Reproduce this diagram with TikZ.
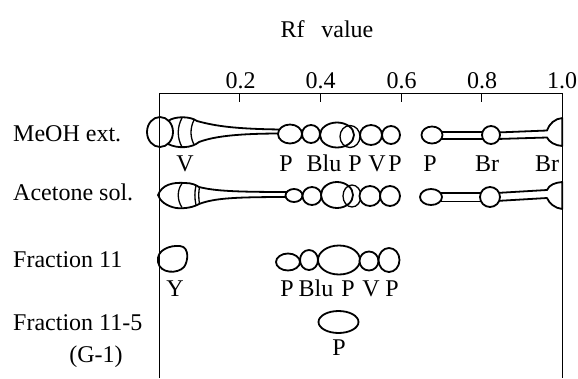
\documentclass[tikz,border=0pt]{standalone}
\usepackage{fontspec}
\setmainfont{Liberation Serif}

\begin{document}
\fontsize{24}{28}\selectfont
\begin{tikzpicture}[x=1pt,y=1pt,yscale=-1,xscale=1,
  spot/.style={line width=1.8pt,fill=white,line join=round},
  seam/.style={line width=1.3pt},
  frame/.style={line width=1pt},
  lbl/.style={anchor=base,inner sep=0pt},
  rowlbl/.style={anchor=base west,inner sep=0pt}]
\useasboundingbox (0,0) rectangle (578,378);

%Shape: MeOH ext. streak with lobes
\draw [spot] (168,121) .. controls (175,116) and (190,116) .. (197,121) .. controls (215,126) and (235,129) .. (282,129.5) -- (282,133.5) .. controls (240,133.5) and (215,136) .. (199,142) .. controls (192,148) and (178,149) .. (168,144) -- cycle ;
\draw [spot] (160,132) ellipse [x radius=13, y radius=15] ;
\draw [seam] (182,118) .. controls (177,127) and (177,138) .. (182,147) ;
\draw [seam] (194,120) .. controls (190,128) and (190,137) .. (194,144.5) ;
%Shape: MeOH ext. middle chain
\draw [spot] (290,134) ellipse [x radius=12, y radius=9.5] ;
\draw [spot] (311,134) ellipse [x radius=9, y radius=9] ;
\draw [spot] (337,135) ellipse [x radius=17, y radius=12.5] ;
\draw [seam] (350,136.5) ellipse [x radius=10, y radius=11] ;
\draw [spot] (371,135) ellipse [x radius=11, y radius=10] ;
\draw [spot] (391,135) ellipse [x radius=9, y radius=9] ;
%Shape: MeOH ext. right band
\draw [spot] (440,132) -- (485,132) -- (485,139) -- (440,139) -- cycle ;
\draw [spot] (497,132.5) -- (547,130.5) .. controls (549,124) and (555,118.5) .. (562.3,118) -- (562.3,146) .. controls (555,145.5) and (549,142) .. (547,137.5) -- (497,139) -- cycle ;
\draw [spot] (432,135) ellipse [x radius=10.5, y radius=8.5] ;
\draw [spot] (491,135) ellipse [x radius=9, y radius=9] ;

%Shape: Acetone sol. streak with egg
\draw [spot] (158,195) .. controls (162,185) and (172,182) .. (185,183) .. controls (192,183) and (196,185) .. (199,187) .. controls (215,191) and (235,192) .. (290,192) -- (290,197) .. controls (235,197) and (215,198) .. (199,204) .. controls (194,207) and (185,209) .. (176,208) .. controls (166,206) and (160,201) .. (158,195) -- cycle ;
\draw [seam] (182,183.5) .. controls (177,190) and (177,200) .. (182,207.5) ;
\draw [seam] (196,185.5) .. controls (194.5,192) and (194.5,198) .. (196,205) ;
\draw [seam] (199.5,187) .. controls (198.5,192) and (198.5,198) .. (199.5,204) ;
%Shape: Acetone sol. middle chain
\draw [spot] (294,195.5) ellipse [x radius=8.5, y radius=6.5] ;
\draw [spot] (312,196) ellipse [x radius=9.5, y radius=9] ;
\draw [spot] (337,195) ellipse [x radius=16, y radius=13] ;
\draw [seam] (352,196) ellipse [x radius=9, y radius=11] ;
\draw [spot] (370,196) ellipse [x radius=10.5, y radius=10] ;
\draw [spot] (390,196) ellipse [x radius=10, y radius=10] ;
%Shape: Acetone sol. right band
\draw [spot] (439,193) -- (484,193) -- (484,201.5) -- (439,201.5) -- cycle ;
\draw [spot] (496,193) -- (547,190) .. controls (549,185) and (555,182.5) .. (562.3,182) -- (562.3,209) .. controls (555,208.5) and (549,203) .. (547,198) -- (496,201) -- cycle ;
\draw [spot] (431,197) ellipse [x radius=11, y radius=8] ;
\draw [spot] (490,197) ellipse [x radius=10, y radius=10] ;

%Shape: Fraction 11 spots
\draw [spot] (158,262) .. controls (156,250) and (170,245) .. (180,246) .. controls (190,247) and (188,262) .. (184,267) .. controls (178,274) and (160,274) .. (158,262) -- cycle ;
\draw [spot] (288,262) ellipse [x radius=12, y radius=8.5] ;
\draw [spot] (309,260) ellipse [x radius=9, y radius=10] ;
\draw [spot] (339,260) ellipse [x radius=21, y radius=14.5] ;
\draw [spot] (369,261) ellipse [x radius=9.5, y radius=9.5] ;
\draw [spot] (389,260) ellipse [x radius=10.5, y radius=12] ;

%Shape: Fraction 11-5 spot
\draw [spot] (338.5,322) ellipse [x radius=20, y radius=11] ;

%Shape: Frame and ticks
\draw [frame] (159.3,378) -- (159.3,93.3) -- (562.3,93.3) -- (562.3,378) ;
\draw [frame] (239.9,93.3) -- (239.9,102) ;
\draw [frame] (320.5,93.3) -- (320.5,102) ;
\draw [frame] (401.1,93.3) -- (401.1,102) ;
\draw [frame] (481.7,93.3) -- (481.7,102) ;

% Text Node
\draw (327,37) node (title) [lbl] {Rf\hspace{0.7em}value} ;
% Text Node
\draw (240.5,88) node (tickA) [lbl] {0.2} ;
\draw (320.7,88) node (tickB) [lbl] {0.4} ;
\draw (401.7,88) node (tickC) [lbl] {0.6} ;
\draw (482,88) node (tickD) [lbl] {0.8} ;
\draw (562,88) node (tickE) [lbl] {1.0} ;
% Text Node
\draw (13,141) node (rowMeOH) [rowlbl] {MeOH ext.} ;
\draw (13,200) node (rowAcetone) [rowlbl] {Acetone sol.} ;
\draw (13,267) node (rowFrac) [rowlbl] {Fraction 11} ;
\draw (13,330) node (rowFracB) [rowlbl] {Fraction 11-5} ;
\draw (96,362) node (rowG) [lbl] {(G-1)} ;
% Text Node
\draw (185,171) node (mV) [lbl] {V} ;
\draw (286,171) node (mPa) [lbl] {P} ;
\draw (324,171) node (mBlu) [lbl] {Blu} ;
\draw (355,171) node (mPb) [lbl] {P} ;
\draw (377,171) node (mVb) [lbl] {V} ;
\draw (395,171) node (mPc) [lbl] {P} ;
\draw (430,171) node (mPd) [lbl] {P} ;
\draw (487,171) node (mBra) [lbl] {Br} ;
\draw (547,171) node (mBrb) [lbl] {Br} ;
% Text Node
\draw (175,296) node (fY) [lbl] {Y} ;
\draw (287,296) node (fPa) [lbl] {P} ;
\draw (316,296) node (fBlu) [lbl] {Blu} ;
\draw (348,296) node (fPb) [lbl] {P} ;
\draw (371,296) node (fV) [lbl] {V} ;
\draw (392,296) node (fPc) [lbl] {P} ;
% Text Node
\draw (339,355) node (gP) [lbl] {P} ;

\end{tikzpicture}
\end{document}
